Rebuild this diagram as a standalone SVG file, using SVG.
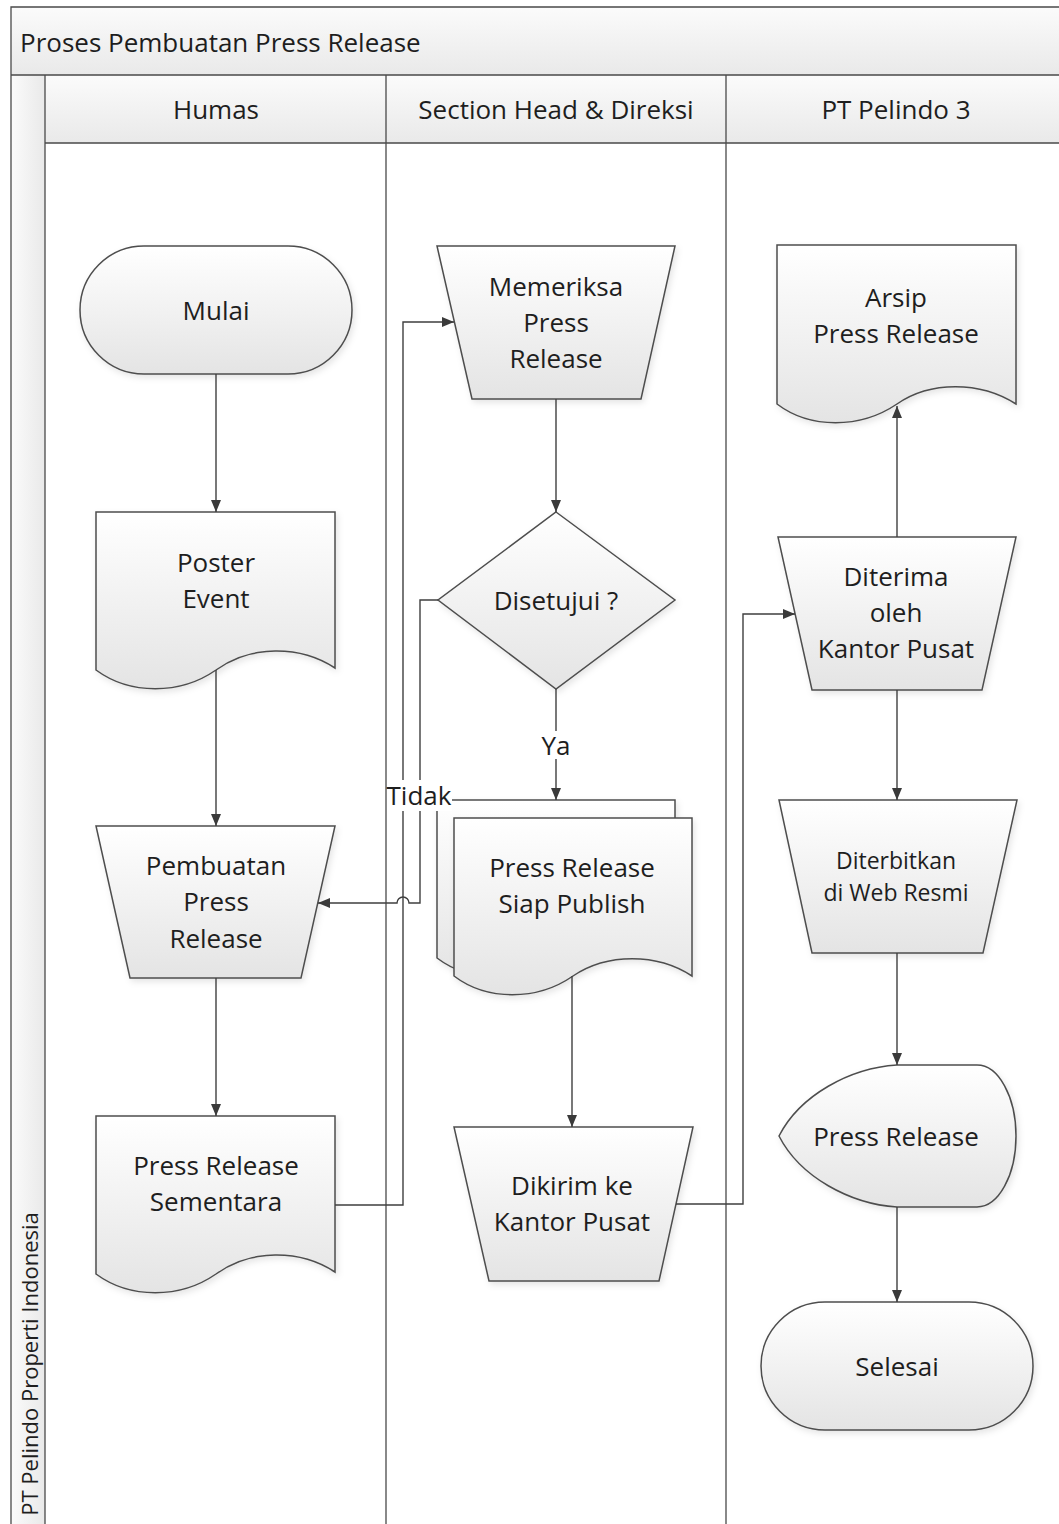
<svg xmlns="http://www.w3.org/2000/svg" width="1059" height="1524" viewBox="0 0 1059 1524">
  <defs>
    <linearGradient id="shapeFill" x1="0" y1="0" x2="0" y2="1">
      <stop offset="0" stop-color="#ffffff"/>
      <stop offset="1" stop-color="#e4e4e4"/>
    </linearGradient>
    <linearGradient id="barFill" x1="0" y1="0" x2="0" y2="1">
      <stop offset="0" stop-color="#fbfbfb"/>
      <stop offset="1" stop-color="#e9e9e9"/>
    </linearGradient>
    <linearGradient id="poolFill" x1="0" y1="0" x2="1" y2="0">
      <stop offset="0" stop-color="#fbfbfb"/>
      <stop offset="1" stop-color="#e9e9e9"/>
    </linearGradient>
    <filter id="shade" x="-10%" y="-10%" width="125%" height="125%">
      <feDropShadow dx="2" dy="3" stdDeviation="3" flood-color="#000" flood-opacity="0.10"/>
    </filter>
    <marker id="arrow" viewBox="0 0 12 10" refX="12" refY="5" markerWidth="12" markerHeight="10" markerUnits="userSpaceOnUse" orient="auto">
      <path d="M0,0 L12,5 L0,10 Z" fill="#3a3a3a"/>
    </marker>
    <style>
      .t { font-family: "Open Sans", "Noto Sans", "Liberation Sans", sans-serif; fill: #1e1e1e; text-anchor: middle; dominant-baseline: central; }
      .n { font-size: 26px; }
      .s { font-size: 23px; }
      .p { font-size: 22px; }
      .shape { fill: url(#shapeFill); stroke: #4e4e4e; stroke-width: 1.5; filter: url(#shade); }
      .frame { stroke: #4a4a4a; stroke-width: 1.3; fill: none; }
      .conn { fill: none; stroke: #3f3f3f; stroke-width: 1.4; }
      .lbl { fill: #ffffff; }
    </style>
  </defs>

  <!-- pool and lanes -->
  <g id="pool">
    <rect x="0" y="0" width="1059" height="1524" fill="#ffffff"/>
    <rect x="11" y="7" width="1060" height="68" fill="url(#barFill)"/>
    <rect x="11" y="75" width="34" height="1460" fill="url(#poolFill)"/>
    <rect x="45" y="75" width="1026" height="68" fill="url(#barFill)"/>
    <path class="frame" d="M1071,7 H11 V1530 M11,75 H1071 M45,75 V1530 M45,143 H1071 M386,75 V1530 M726,75 V1530"/>
    <text class="t" x="20" y="42" font-size="26" style="text-anchor:start">Proses Pembuatan Press Release</text>
    <text class="t p" transform="translate(29,1364) rotate(-90)">PT Pelindo Properti Indonesia</text>
    <text class="t n" x="216" y="109">Humas</text>
    <text class="t n" x="556" y="109">Section Head &amp; Direksi</text>
    <text class="t n" x="896" y="109">PT Pelindo 3</text>
  </g>

  <!-- Humas lane -->
  <g id="mulai">
    <rect class="shape" x="80" y="246" width="272" height="128" rx="64" ry="64"/>
    <text class="t n" x="216" y="310">Mulai</text>
  </g>
  <g id="poster-event">
    <path class="shape" d="M96,512 H335 V668 C300,645 250,645 216,670 C180,695 130,695 96,670 Z"/>
    <text class="t n" x="216" y="562">Poster</text>
    <text class="t n" x="216" y="598">Event</text>
  </g>
  <g id="pembuatan">
    <path class="shape" d="M96,826 H335 L301,978 H130 Z"/>
    <text class="t n" x="216" y="865">Pembuatan</text>
    <text class="t n" x="216" y="901">Press</text>
    <text class="t n" x="216" y="938">Release</text>
  </g>
  <g id="sementara">
    <path class="shape" d="M96,1116 H335 V1272 C300,1249 250,1249 216,1274 C180,1299 130,1299 96,1274 Z"/>
    <text class="t n" x="216" y="1165">Press Release</text>
    <text class="t n" x="216" y="1201">Sementara</text>
  </g>

  <!-- Section Head & Direksi lane -->
  <g id="memeriksa">
    <path class="shape" d="M437,246 H675 L641,399 H472 Z"/>
    <text class="t n" x="556" y="286">Memeriksa</text>
    <text class="t n" x="556" y="322">Press</text>
    <text class="t n" x="556" y="358">Release</text>
  </g>
  <g id="disetujui">
    <path class="shape" d="M556,512 L675,600 L556,689 L438,600 Z"/>
    <text class="t n" x="556" y="600">Disetujui ?</text>
  </g>
  <g id="siap-publish">
    <path class="shape" d="M437,800 H675 V956 C640,933 590,933 556,958 C520,983 470,983 437,958 Z"/>
    <path class="shape" d="M454,818 H692 V976 C657,953 607,953 573,976 C537,1001 487,1001 454,976 Z"/>
    <text class="t n" x="572" y="867">Press Release</text>
    <text class="t n" x="572" y="903">Siap Publish</text>
  </g>
  <g id="dikirim">
    <path class="shape" d="M454,1127 H693 L659,1281 H489 Z"/>
    <text class="t n" x="572" y="1185">Dikirim ke</text>
    <text class="t n" x="572" y="1221">Kantor Pusat</text>
  </g>

  <!-- PT Pelindo 3 lane -->
  <g id="arsip">
    <path class="shape" d="M777,245 H1016 V404 C980,381 930,381 897,404 C860,429 810,429 777,404 Z"/>
    <text class="t n" x="896" y="297">Arsip</text>
    <text class="t n" x="896" y="333">Press Release</text>
  </g>
  <g id="diterima">
    <path class="shape" d="M778,537 H1016 L982,690 H812 Z"/>
    <text class="t n" x="896" y="576">Diterima</text>
    <text class="t n" x="896" y="612">oleh</text>
    <text class="t n" x="896" y="648">Kantor Pusat</text>
  </g>
  <g id="diterbitkan">
    <path class="shape" d="M779,800 H1017 L983,953 H812 Z"/>
    <text class="t s" x="896" y="860">Diterbitkan</text>
    <text class="t s" x="896" y="892">di Web Resmi</text>
  </g>
  <g id="press-release">
    <path class="shape" d="M897,1065 H977 A39,71 0 0 1 977,1207 H897 C850,1204 800,1177 779,1136 C800,1095 850,1068 897,1065 Z"/>
    <text class="t n" x="896" y="1136">Press Release</text>
  </g>
  <g id="selesai">
    <rect class="shape" x="761" y="1302" width="272" height="128" rx="64" ry="64"/>
    <text class="t n" x="897" y="1366">Selesai</text>
  </g>

  <!-- connectors -->
  <g id="connectors">
    <path class="conn" d="M216,374 V512" marker-end="url(#arrow)"/>
    <path class="conn" d="M216,670 V826" marker-end="url(#arrow)"/>
    <path class="conn" d="M216,978 V1116" marker-end="url(#arrow)"/>
    <path class="conn" d="M335,1205 H403 V322 H454" marker-end="url(#arrow)"/>
    <path class="conn" d="M556,399 V512" marker-end="url(#arrow)"/>
    <path class="conn" d="M556,689 V800" marker-end="url(#arrow)"/>
    <path class="conn" d="M438,600 H420 V903 H409 A6,6 0 0 0 397,903 H318" marker-end="url(#arrow)"/>
    <path class="conn" d="M572,976 V1127" marker-end="url(#arrow)"/>
    <path class="conn" d="M676,1204 H743 V614 H795" marker-end="url(#arrow)"/>
    <path class="conn" d="M897,537 V406" marker-end="url(#arrow)"/>
    <path class="conn" d="M897,690 V800" marker-end="url(#arrow)"/>
    <path class="conn" d="M897,953 V1065" marker-end="url(#arrow)"/>
    <path class="conn" d="M897,1207 V1302" marker-end="url(#arrow)"/>
    <rect class="lbl" x="541" y="731" width="30" height="28"/>
    <text class="t n" x="556" y="745">Ya</text>
    <rect class="lbl" x="387" y="780" width="65" height="31"/>
    <text class="t n" x="419" y="795">Tidak</text>
  </g>
</svg>
